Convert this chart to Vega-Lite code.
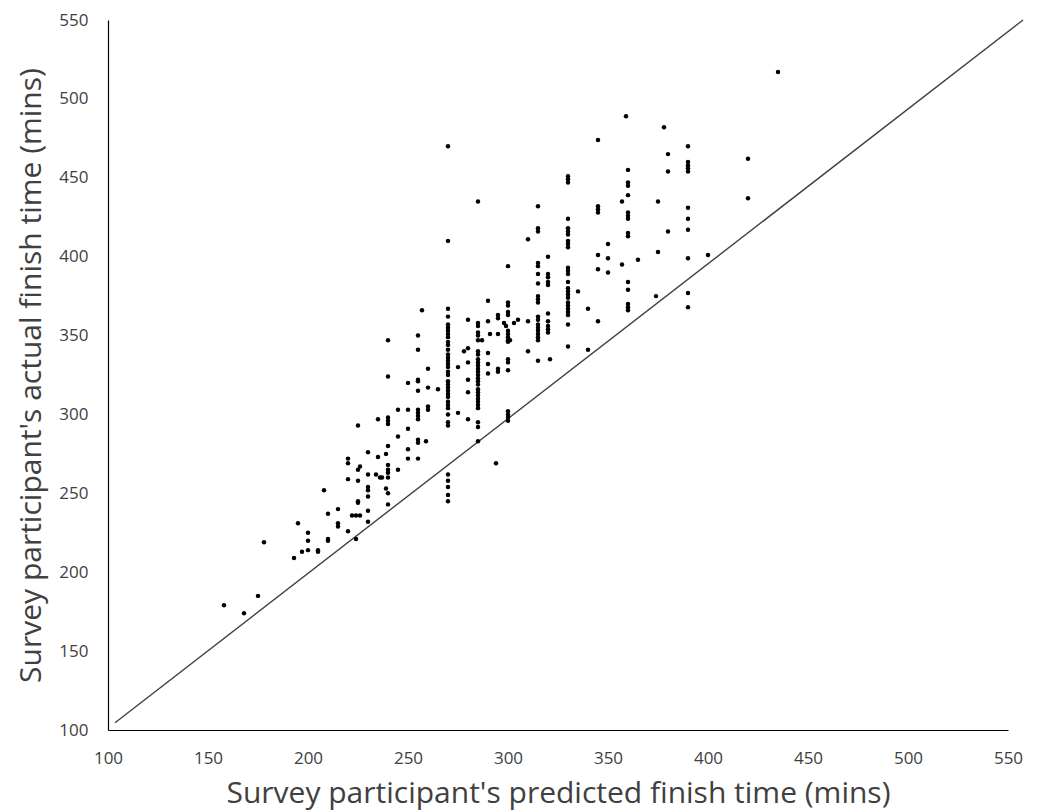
{
  "$schema": "https://vega.github.io/schema/vega-lite/v6.json",
  "width": 900,
  "height": 710,
  "autosize": {"type": "none"},
  "padding": {"left": 108, "top": 20, "right": 35, "bottom": 82},
  "background": "white",
  "config": {
    "view": {"stroke": null},
    "axis": {
      "grid": false,
      "ticks": false,
      "tickSize": 0,
      "labelFlush": false,
      "labelOverlap": false,
      "domainColor": "#000000",
      "domainWidth": 1.2,
      "labelFont": "Open Sans",
      "labelFontSize": 17,
      "labelColor": "#404040",
      "titleFont": "Open Sans",
      "titleFontSize": 30,
      "titleFontWeight": "normal",
      "titleColor": "#404040"
    }
  },
  "datasets": {
    "diag": [{"p": 103.5, "a": 104.6}, {"p": 557.5, "a": 550}],
    "pts": [
      {"p":158,"a":179},{"p":168,"a":174},{"p":175,"a":185},{"p":178,"a":219},{"p":193,"a":209},{"p":195,"a":231},{"p":197,"a":213},{"p":200,"a":225},{"p":200,"a":220},{"p":200,"a":214},{"p":205,"a":214},{"p":205,"a":213},{"p":208,"a":252},{"p":210,"a":237},{"p":210,"a":221},{"p":210,"a":220},{"p":215,"a":240},{"p":215,"a":231},{"p":215,"a":229},{"p":220,"a":226},
      {"p":220,"a":272},{"p":220,"a":269},{"p":220,"a":259},{"p":222,"a":236},{"p":224,"a":236},{"p":226,"a":236},{"p":224,"a":221},{"p":225,"a":293},{"p":225,"a":265},{"p":225,"a":258},{"p":225,"a":245},{"p":225,"a":244},{"p":226,"a":267},{"p":230,"a":276},{"p":230,"a":262},{"p":230,"a":254},{"p":230,"a":252},{"p":230,"a":248},{"p":230,"a":239},{"p":230,"a":232},{"p":234,"a":262},{"p":235,"a":297},{"p":235,"a":273},{"p":236,"a":260},{"p":237,"a":260},{"p":239,"a":275},{"p":239,"a":253},{"p":240,"a":347},{"p":240,"a":324},{"p":240,"a":298},{"p":240,"a":296},{"p":240,"a":294},{"p":240,"a":280},{"p":240,"a":268},{"p":240,"a":265},{"p":240,"a":263},{"p":240,"a":260},{"p":240,"a":250},{"p":240,"a":243},
      {"p":245,"a":303},{"p":245,"a":286},{"p":245,"a":265},{"p":250,"a":320},{"p":250,"a":303},{"p":250,"a":291},{"p":250,"a":278},{"p":250,"a":272},{"p":255,"a":350},{"p":255,"a":341},{"p":255,"a":322},{"p":255,"a":321},{"p":255,"a":315},{"p":255,"a":303},{"p":255,"a":301},{"p":255,"a":299},{"p":255,"a":297},{"p":255,"a":284},{"p":255,"a":282},{"p":255,"a":272},{"p":257,"a":366},{"p":259,"a":283},{"p":260,"a":329},{"p":260,"a":317},{"p":260,"a":305},{"p":260,"a":303},{"p":265,"a":316},{"p":275,"a":330},{"p":275,"a":301},{"p":278,"a":340},{"p":280,"a":360},{"p":280,"a":342},{"p":280,"a":333},{"p":280,"a":322},{"p":280,"a":314},{"p":280,"a":297},
      {"p":270,"a":470},{"p":270,"a":410},{"p":270,"a":367},{"p":270,"a":362},{"p":270,"a":357},{"p":270,"a":355},{"p":270,"a":353},{"p":270,"a":351},{"p":270,"a":349},{"p":270,"a":346},{"p":270,"a":344},{"p":270,"a":341},{"p":270,"a":338},{"p":270,"a":336},{"p":270,"a":334},{"p":270,"a":332},{"p":270,"a":330},{"p":270,"a":327},{"p":270,"a":325},{"p":270,"a":321},{"p":270,"a":319},{"p":270,"a":317},{"p":270,"a":315},{"p":270,"a":313},{"p":270,"a":311},{"p":270,"a":308},{"p":270,"a":306},{"p":270,"a":304},{"p":270,"a":300},{"p":270,"a":295},{"p":270,"a":293},{"p":270,"a":262},{"p":270,"a":258},{"p":270,"a":254},{"p":270,"a":249},{"p":270,"a":245},
      {"p":285,"a":435},{"p":285,"a":358},{"p":285,"a":356},{"p":285,"a":352},{"p":285,"a":350},{"p":285,"a":347},{"p":287,"a":347},{"p":285,"a":340},{"p":285,"a":338},{"p":285,"a":335},{"p":285,"a":333},{"p":285,"a":331},{"p":285,"a":329},{"p":285,"a":327},{"p":285,"a":325},{"p":285,"a":323},{"p":285,"a":321},{"p":285,"a":319},{"p":285,"a":316},{"p":285,"a":314},{"p":285,"a":312},{"p":285,"a":310},{"p":285,"a":308},{"p":285,"a":306},{"p":285,"a":304},{"p":285,"a":295},{"p":285,"a":292},{"p":285,"a":283},
      {"p":290,"a":372},{"p":290,"a":359},{"p":290,"a":339},{"p":290,"a":332},{"p":290,"a":326},{"p":291,"a":351},{"p":295,"a":363},{"p":295,"a":361},{"p":295,"a":351},{"p":295,"a":329},{"p":295,"a":327},{"p":294,"a":269},
      {"p":300,"a":394},{"p":300,"a":371},{"p":300,"a":369},{"p":300,"a":365},{"p":300,"a":363},{"p":298,"a":358},{"p":299,"a":356},{"p":300,"a":353},{"p":300,"a":351},{"p":300,"a":349},{"p":300,"a":347},{"p":300,"a":346},{"p":301,"a":347},{"p":303,"a":358},{"p":305,"a":360},{"p":300,"a":335},{"p":300,"a":333},{"p":300,"a":328},{"p":300,"a":302},{"p":300,"a":300},{"p":300,"a":298},{"p":300,"a":296},
      {"p":310,"a":411},{"p":310,"a":359},{"p":310,"a":340},
      {"p":315,"a":432},{"p":315,"a":418},{"p":315,"a":416},{"p":315,"a":396},{"p":315,"a":394},{"p":315,"a":389},{"p":315,"a":383},{"p":315,"a":375},{"p":315,"a":373},{"p":315,"a":371},{"p":315,"a":362},{"p":315,"a":360},{"p":315,"a":357},{"p":315,"a":355},{"p":315,"a":353},{"p":315,"a":351},{"p":315,"a":349},{"p":315,"a":347},{"p":315,"a":334},
      {"p":320,"a":400},{"p":320,"a":389},{"p":320,"a":387},{"p":320,"a":384},{"p":320,"a":382},{"p":320,"a":364},{"p":320,"a":359},{"p":320,"a":356},{"p":320,"a":354},{"p":320,"a":352},{"p":321,"a":335},
      {"p":330,"a":451},{"p":330,"a":449},{"p":330,"a":447},{"p":330,"a":424},{"p":330,"a":418},{"p":330,"a":416},{"p":330,"a":414},{"p":330,"a":410},{"p":330,"a":408},{"p":330,"a":406},{"p":330,"a":393},{"p":330,"a":391},{"p":330,"a":389},{"p":330,"a":384},{"p":330,"a":380},{"p":330,"a":378},{"p":330,"a":376},{"p":330,"a":374},{"p":330,"a":371},{"p":330,"a":369},{"p":330,"a":367},{"p":330,"a":365},{"p":330,"a":363},{"p":330,"a":357},{"p":330,"a":343},
      {"p":335,"a":378},{"p":340,"a":367},{"p":340,"a":341},
      {"p":345,"a":474},{"p":345,"a":432},{"p":345,"a":430},{"p":345,"a":428},{"p":345,"a":401},{"p":345,"a":392},{"p":345,"a":359},
      {"p":350,"a":408},{"p":350,"a":399},{"p":350,"a":390},{"p":357,"a":435},{"p":357,"a":395},
      {"p":359,"a":489},{"p":360,"a":455},{"p":360,"a":447},{"p":360,"a":445},{"p":360,"a":439},{"p":360,"a":428},{"p":360,"a":426},{"p":360,"a":424},{"p":360,"a":415},{"p":360,"a":413},{"p":360,"a":384},{"p":360,"a":379},{"p":360,"a":370},{"p":360,"a":368},{"p":360,"a":366},
      {"p":365,"a":398},{"p":375,"a":435},{"p":375,"a":403},{"p":374,"a":375},{"p":378,"a":482},{"p":380,"a":465},{"p":380,"a":454},{"p":380,"a":416},
      {"p":390,"a":470},{"p":390,"a":460},{"p":390,"a":458},{"p":390,"a":456},{"p":390,"a":454},{"p":390,"a":431},{"p":390,"a":424},{"p":390,"a":417},{"p":390,"a":399},{"p":390,"a":377},{"p":390,"a":368},
      {"p":400,"a":401},{"p":420,"a":462},{"p":420,"a":437},{"p":435,"a":517}
    ]
  },
  "layer": [
    {
      "data": {"name": "diag"},
      "mark": {"type": "line", "color": "#404040", "strokeWidth": 1.4, "clip": false},
      "encoding": {
        "x": {"field": "p", "type": "quantitative"},
        "y": {"field": "a", "type": "quantitative"}
      }
    },
    {
      "data": {"name": "pts"},
      "mark": {"type": "circle", "color": "#000000", "opacity": 1, "size": 20},
      "encoding": {
        "x": {
          "field": "p", "type": "quantitative",
          "scale": {"domain": [100, 550], "nice": false, "zero": false},
          "axis": {
            "values": [100, 150, 200, 250, 300, 350, 400, 450, 500, 550],
            "title": "Survey participant's predicted finish time (mins)",
            "labelPadding": 20,
            "titleBaseline": "middle",
            "titleY": 63
          }
        },
        "y": {
          "field": "a", "type": "quantitative",
          "scale": {"domain": [100, 550], "nice": false, "zero": false},
          "axis": {
            "values": [100, 150, 200, 250, 300, 350, 400, 450, 500, 550],
            "title": "Survey participant's actual finish time (mins)",
            "labelPadding": 20,
            "titleBaseline": "middle",
            "titleX": -77
          }
        }
      }
    }
  ]
}
